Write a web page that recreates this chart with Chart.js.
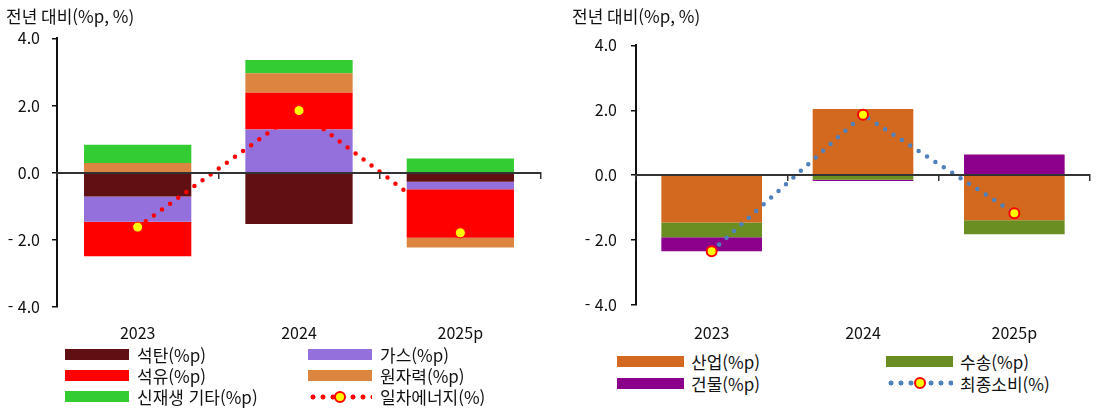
<!DOCTYPE html>
<html lang="ko">
<head>
<meta charset="utf-8">
<title>에너지 기여도</title>
<script src="https://cdn.jsdelivr.net/npm/chart.js@4.4.1/dist/chart.umd.min.js"></script>
<style>
  body { margin: 0; width: 1097px; height: 410px; background: #fff; position: relative; overflow: hidden; font-family: "Noto Sans CJK KR", sans-serif; }
  .box { position: absolute; top: 0; height: 345px; }
  #left-box { left: 0; width: 548px; }
  #right-box { left: 566px; width: 531px; }
  .item { position: absolute; display: flex; align-items: center; height: 22px; white-space: nowrap; font-size: 17px; color: #111; }
  .swatch { height: 11px; flex: none; }
  .dots { position: relative; height: 12px; flex: none; background-repeat: repeat-x; background-position: 2px 0; background-size: 10px 12px; }
  .dots span { position: absolute; left: 50%; top: 50%; width: 12px; height: 12px; margin: -6px 0 0 -6px; box-sizing: border-box; border-radius: 50%; background: #ffff00; border: 2px solid #ff0000; }
</style>
</head>
<body>
<div class="box" id="left-box"><canvas id="energy-chart"></canvas></div>
<div class="box" id="right-box"><canvas id="final-chart"></canvas></div>
<div id="left-legend"></div>
<div id="right-legend"></div>
<script>
const years = ['2023', '2024', '2025p'];

// 일차에너지 원별 기여도 (%p)
const coal = [-0.71, -1.53, -0.27];
const gas = [-0.75, 1.29, -0.22];
const oil = [-1.03, 1.09, -1.45];
const nuclear = [0.29, 0.58, -0.29];
const renewable = [0.54, 0.40, 0.42];
const primaryTotal = [-1.62, 1.85, -1.79];

// 최종소비 부문별 기여도 (%p)
const industry = [-1.46, 2.04, -1.39];
const transport = [-0.45, -0.14, -0.43];
const building = [-0.43, -0.04, 0.64];
const finalTotal = [-2.34, 1.86, -1.17];

const yTicks = [4, 2, 0, -2, -4];
const titleText = '전년 대비(%p, %)';

const FONT = '"Noto Sans CJK KR", sans-serif';
Chart.defaults.font.family = FONT;
Chart.defaults.color = '#111';

function tickLabel(v) {
    return v < 0 ? '- ' + Math.abs(v).toFixed(1) : v.toFixed(1);
}

function barSet(label, data, color) {
    return {
        type: 'bar',
        label: label,
        data: data,
        backgroundColor: color,
        borderWidth: 0,
        stack: 'total',
        order: 1,
        barPercentage: 0.665,
        categoryPercentage: 1
    };
}

function lineSet(label, data, color, markerBorder) {
    return {
        type: 'line',
        label: label,
        data: data,
        borderColor: color,
        borderWidth: 4.5,
        borderDash: [0, 10],
        borderCapStyle: 'round',
        pointRadius: 5,
        pointBackgroundColor: '#ffff00',
        pointBorderColor: '#ff0000',
        pointBorderWidth: markerBorder,
        tension: 0,
        order: 0
    };
}

function chartOptions(cfg) {
    return {
        responsive: true,
        maintainAspectRatio: false,
        animation: false,
        layout: { padding: { left: 6, right: cfg.padRight, top: 0, bottom: 0 } },
        plugins: {
            legend: { display: false },
            tooltip: { enabled: false },
            title: {
                display: true,
                text: titleText,
                align: 'start',
                color: '#111',
                font: { size: 17, weight: 'normal' },
                padding: { top: 6, bottom: cfg.titleBottom }
            }
        },
        scales: {
            x: {
                type: 'category',
                position: 'bottom',
                grid: { display: false, drawTicks: false },
                border: { display: false },
                ticks: { padding: cfg.xPad, color: '#111', font: { size: 16 } },
                afterFit: function(scale) { scale.height = cfg.xHeight; }
            },
            // 0 기준선과 연도 구분 눈금
            xZero: {
                type: 'category',
                axis: 'x',
                position: { y: 0 },
                offset: true,
                grid: { offset: true, drawOnChartArea: false, tickLength: 5, color: '#333', lineWidth: 1.5, z: 1 },
                border: { color: '#333', width: 2, z: 1 },
                ticks: { display: false }
            },
            y: {
                min: -4,
                max: 4,
                afterBuildTicks: function(scale) {
                    scale.ticks = yTicks.map(v => ({ value: v }));
                },
                grid: { drawOnChartArea: false, tickLength: 5, color: '#111', lineWidth: 1.5 },
                border: { color: '#111', width: 2 },
                ticks: { padding: cfg.yPad, color: '#111', font: { size: 16 }, callback: tickLabel },
                afterFit: function(scale) { scale.width = cfg.yWidth; }
            }
        }
    };
}

const energyChart = new Chart(document.getElementById('energy-chart'), {
    data: {
        labels: years,
        datasets: [
            barSet('석탄(%p)', coal, '#600f12'),
            barSet('가스(%p)', gas, '#9370db'),
            barSet('석유(%p)', oil, '#ff0000'),
            barSet('원자력(%p)', nuclear, '#db8540'),
            barSet('신재생 기타(%p)', renewable, '#33cc33'),
            lineSet('일차에너지(%)', primaryTotal, '#ff0000', 1)
        ]
    },
    options: chartOptions({ padRight: 7, titleBottom: 12, xPad: 16, xHeight: 38, yWidth: 51, yPad: 12 })
});

const finalChart = new Chart(document.getElementById('final-chart'), {
    data: {
        labels: years,
        datasets: [
            barSet('산업(%p)', industry, '#d2691e'),
            barSet('수송(%p)', transport, '#6b8e23'),
            barSet('건물(%p)', building, '#8b008b'),
            lineSet('최종소비(%)', finalTotal, '#4f81bd', 2)
        ]
    },
    options: chartOptions({ padRight: 3, titleBottom: 19, xPad: 18, xHeight: 40, yWidth: 64, yPad: 14 })
});

// 범례: 2열로 데이터셋 순서대로 배치
function buildLegend(el, chart, pos) {
    chart.data.datasets.forEach((ds, i) => {
        const item = document.createElement('div');
        item.className = 'item';
        item.style.left = (pos.x + (i % 2) * pos.colW) + 'px';
        item.style.top = (pos.y + Math.floor(i / 2) * pos.rowH) + 'px';

        const mark = document.createElement('div');
        mark.style.width = pos.swW + 'px';
        mark.style.marginRight = pos.gap + 'px';
        if (ds.type === 'line') {
            mark.className = 'dots';
            mark.style.backgroundImage = 'radial-gradient(circle at 3px 6px, ' + ds.borderColor + ' 2.2px, transparent 2.8px)';
            mark.appendChild(document.createElement('span'));
        } else {
            mark.className = 'swatch';
            mark.style.background = ds.backgroundColor;
        }
        item.appendChild(mark);

        const text = document.createElement('span');
        text.textContent = ds.label;
        item.appendChild(text);
        el.appendChild(item);
    });
}

buildLegend(document.getElementById('left-legend'), energyChart, { x: 65, y: 343, colW: 243, rowH: 21.4, swW: 64, gap: 8 });
buildLegend(document.getElementById('right-legend'), finalChart, { x: 617, y: 350, colW: 269, rowH: 22, swW: 67, gap: 7 });
</script>
</body>
</html>
